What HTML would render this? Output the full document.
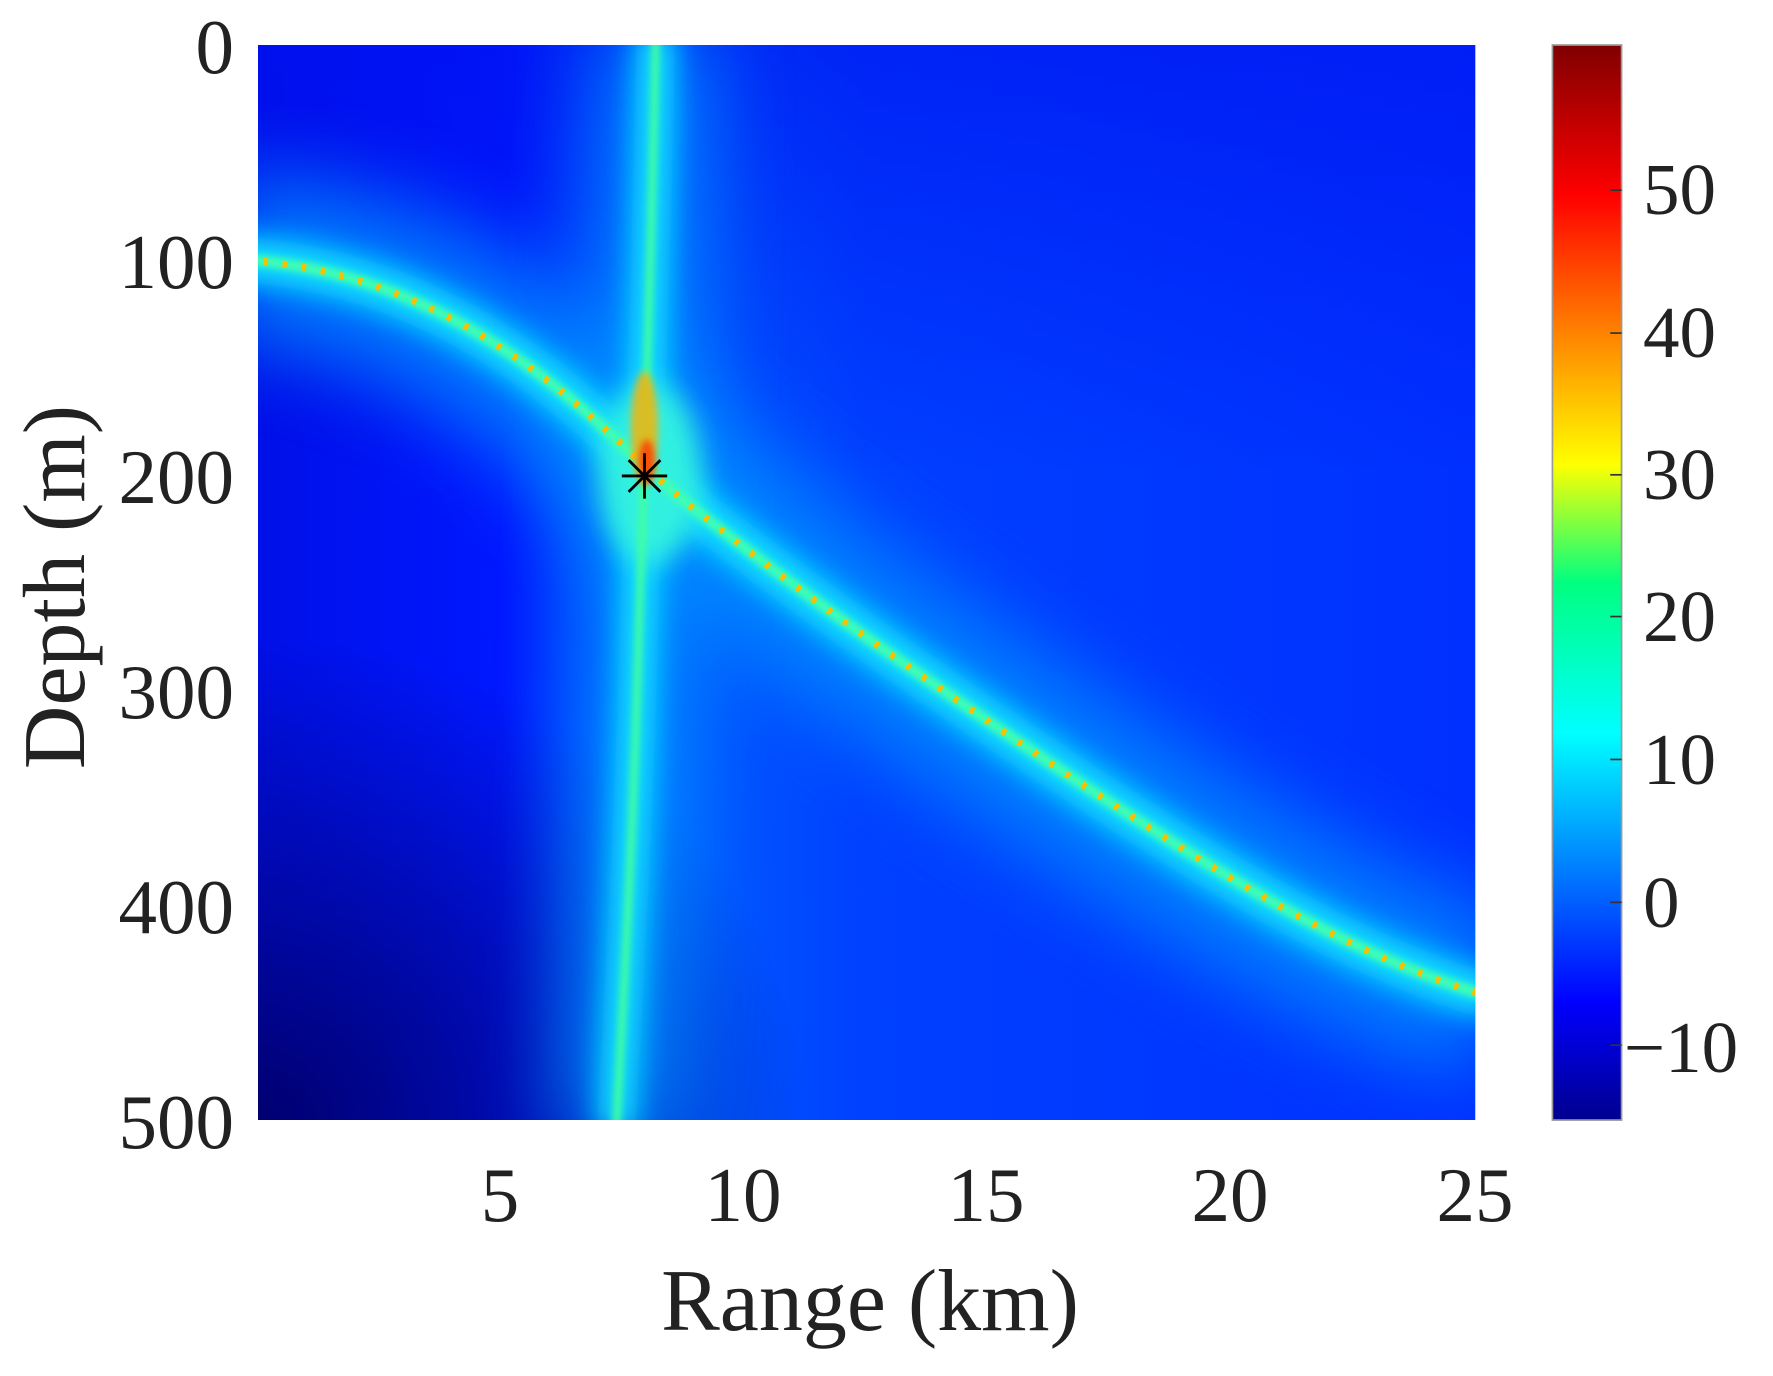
<!DOCTYPE html>
<html><head><style>
html,body{margin:0;padding:0;background:#fff;}
svg{display:block;}
text{font-family:"Liberation Serif",serif;fill:#222;}
</style></head><body>
<svg width="1773" height="1376" viewBox="0 0 1773 1376" xmlns="http://www.w3.org/2000/svg">
<defs>
<linearGradient id="jet" x1="0" y1="1" x2="0" y2="0">
<stop offset="0" stop-color="#00008f"/>
<stop offset="0.11" stop-color="#0000ff"/>
<stop offset="0.36" stop-color="#00ffff"/>
<stop offset="0.5" stop-color="#00ff80"/>
<stop offset="0.61" stop-color="#ffff00"/>
<stop offset="0.86" stop-color="#ff0000"/>
<stop offset="1" stop-color="#800000"/>
</linearGradient>
<linearGradient id="bgH" x1="0" y1="0" x2="1" y2="0">
<stop offset="0" stop-color="#0010e8"/>
<stop offset="0.2" stop-color="#0018ff"/>
<stop offset="0.32" stop-color="#0060ff"/>
<stop offset="0.5" stop-color="#0040ff"/>
<stop offset="1" stop-color="#0030ff"/>
</linearGradient>
<radialGradient id="dark" cx="0" cy="1" r="0.45">
<stop offset="0" stop-color="#000070" stop-opacity="1"/>
<stop offset="1" stop-color="#000070" stop-opacity="0"/>
</radialGradient>
<linearGradient id="topfade" x1="0" y1="0" x2="0" y2="1">
<stop offset="0" stop-color="#0010f0" stop-opacity="0.6"/>
<stop offset="0.4" stop-color="#0010f0" stop-opacity="0"/>
</linearGradient>
<filter id="b30" filterUnits="userSpaceOnUse" x="0" y="0" width="1600" height="1200"><feGaussianBlur stdDeviation="35"/></filter>
<filter id="b12" filterUnits="userSpaceOnUse" x="0" y="0" width="1600" height="1200"><feGaussianBlur stdDeviation="12"/></filter>
<filter id="b4" filterUnits="userSpaceOnUse" x="0" y="0" width="1600" height="1200"><feGaussianBlur stdDeviation="3"/></filter>
<clipPath id="clip"><rect x="229" y="42" width="1074" height="948"/></clipPath>
</defs>
<g transform="translate(-1.6,-2.6) scale(1.1335,1.134)">
<g clip-path="url(#clip)">
<rect x="229" y="42" width="1074" height="948" fill="url(#bgH)"/>
<rect x="229" y="42" width="1074" height="948" fill="url(#topfade)"/>
<rect x="229" y="42" width="1074" height="948" fill="url(#dark)"/>
<path d="M200,230 C300,235 380,265 460,320 C520,362 560,405 600,440 C700,520 800,590 950,690 C1080,775 1200,850 1320,882" fill="none" stroke="#0090ff" stroke-width="150" filter="url(#b30)" opacity="0.8"/>
<path d="M580,30 C577,200 570,400 565,560 C560,750 550,900 545,1000" fill="none" stroke="#0090ff" stroke-width="100" filter="url(#b30)" opacity="0.8"/>
<path d="M200,230 C300,235 380,265 460,320 C520,362 560,405 600,440 C700,520 800,590 950,690 C1080,775 1200,850 1320,882" fill="none" stroke="#10e0ff" stroke-width="40" filter="url(#b12)"/>
<path d="M580,30 C577,200 570,400 565,560 C560,750 550,900 545,1000" fill="none" stroke="#10e0ff" stroke-width="34" filter="url(#b12)"/>
<ellipse cx="575" cy="420" rx="45" ry="80" fill="#30f0e0" filter="url(#b12)"/>
<path d="M200,230 C300,235 380,265 460,320 C520,362 560,405 600,440 C700,520 800,590 950,690 C1080,775 1200,850 1320,882" fill="none" stroke="#40ffb0" stroke-width="10" filter="url(#b4)"/>
<path d="M580,30 C577,200 570,400 565,560 C560,750 550,900 545,1000" fill="none" stroke="#40ffa0" stroke-width="7" filter="url(#b4)"/>
<path d="M200,230 C300,235 380,265 460,320 C520,362 560,405 600,440 C700,520 800,590 950,690 C1080,775 1200,850 1320,882" fill="none" stroke="#f8c000" stroke-width="6" stroke-dasharray="4 13"/>
<ellipse cx="570" cy="380" rx="12" ry="50" fill="#ffb000" filter="url(#b4)" opacity="0.8"/>
<ellipse cx="572" cy="410" rx="7" ry="20" fill="#ff3000" filter="url(#b4)" opacity="0.8"/>
</g>
<g stroke="#000" stroke-width="2.5">
<line x1="550" y1="422" x2="590" y2="422"/>
<line x1="570" y1="402" x2="570" y2="442"/>
<line x1="556" y1="408" x2="584" y2="436"/>
<line x1="556" y1="436" x2="584" y2="408"/>
</g>
<rect x="1371" y="42" width="61" height="948" fill="url(#jet)" stroke="#999" stroke-width="1.5"/>
<g stroke="#333" stroke-width="1.5">
<line x1="1422" y1="170" x2="1432" y2="170"/>
<line x1="1422" y1="296" x2="1432" y2="296"/>
<line x1="1422" y1="421" x2="1432" y2="421"/>
<line x1="1422" y1="546" x2="1432" y2="546"/>
<line x1="1422" y1="672" x2="1432" y2="672"/>
<line x1="1422" y1="798" x2="1432" y2="798"/>
<line x1="1422" y1="924" x2="1432" y2="924"/>
</g>
</g>
<g font-size="77" text-anchor="end">
<text x="234" y="73">0</text>
<text x="234" y="288">100</text>
<text x="234" y="503">200</text>
<text x="234" y="718">300</text>
<text x="234" y="933">400</text>
<text x="234" y="1148">500</text>
</g>
<g font-size="77" text-anchor="middle">
<text x="500" y="1221">5</text>
<text x="743" y="1221">10</text>
<text x="986" y="1221">15</text>
<text x="1230" y="1221">20</text>
<text x="1475" y="1221">25</text>
</g>
<g font-size="73">
<text x="1643" y="214">50</text>
<text x="1643" y="357">40</text>
<text x="1643" y="499">30</text>
<text x="1643" y="641">20</text>
<text x="1643" y="784">10</text>
<text x="1643" y="927">0</text>
<text x="1624" y="1072">−10</text>
</g>
<text x="870" y="1330" font-size="88" text-anchor="middle">Range (km)</text>
<text transform="translate(84,587) rotate(-90)" font-size="88" text-anchor="middle">Depth (m)</text>
</svg>
</body></html>
